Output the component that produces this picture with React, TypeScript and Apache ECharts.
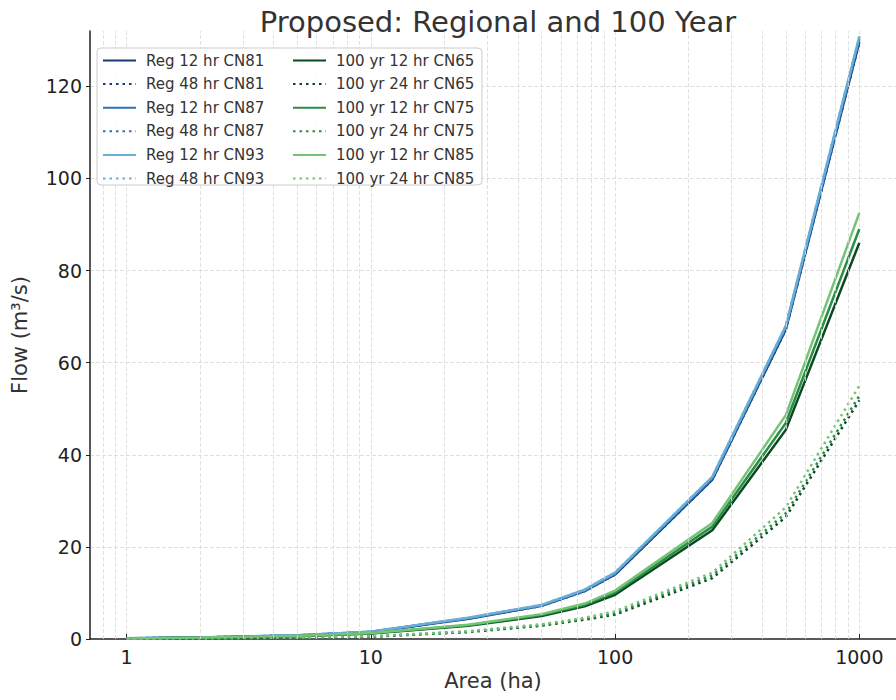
import React, { useEffect, useRef } from "react";
import * as echarts from "echarts";

const areas = [1, 2, 5, 10, 25, 50, 75, 100, 250, 500, 1000];

const reg12CN81 = [0.13, 0.32, 0.75, 1.5, 4.4, 7.2, 10.4, 14.0, 34.6, 67.2, 129.6];
const reg48CN81 = [0.13, 0.32, 0.75, 1.5, 4.4, 7.2, 10.4, 14.0, 34.6, 67.2, 129.6];
const reg12CN87 = [0.14, 0.33, 0.78, 1.55, 4.5, 7.3, 10.5, 14.2, 34.9, 67.6, 130.2];
const reg48CN87 = [0.14, 0.33, 0.78, 1.55, 4.5, 7.3, 10.5, 14.2, 34.9, 67.6, 130.2];
const reg12CN93 = [0.15, 0.35, 0.8, 1.6, 4.6, 7.4, 10.7, 14.4, 35.2, 68.0, 130.8];
const reg48CN93 = [0.15, 0.35, 0.8, 1.6, 4.6, 7.4, 10.7, 14.4, 35.2, 68.0, 130.8];

const yr12CN65 = [0.1, 0.26, 0.62, 1.2, 2.9, 5.0, 7.1, 9.6, 23.6, 45.4, 86.0];
const yr24CN65 = [0.04, 0.1, 0.26, 0.5, 1.5, 2.9, 4.2, 5.3, 13.2, 26.5, 51.8];
const yr12CN75 = [0.11, 0.28, 0.66, 1.25, 3.0, 5.2, 7.4, 10.1, 24.4, 46.9, 89.0];
const yr24CN75 = [0.05, 0.11, 0.28, 0.55, 1.6, 3.0, 4.4, 5.6, 13.8, 27.3, 52.8];
const yr12CN85 = [0.12, 0.3, 0.7, 1.3, 3.1, 5.4, 7.7, 10.5, 25.2, 48.6, 92.5];
const yr24CN85 = [0.05, 0.12, 0.3, 0.6, 1.7, 3.2, 4.6, 6.0, 14.4, 28.6, 55.0];

const minorXTicks = [0.8, 0.9, 2, 3, 4, 5, 6, 7, 8, 9, 20, 30, 40, 50, 60, 70, 80, 90, 200, 300, 400, 500, 600, 700, 800, 900];

const regNames = ["Reg 12 hr CN81", "Reg 48 hr CN81", "Reg 12 hr CN87", "Reg 48 hr CN87", "Reg 12 hr CN93", "Reg 48 hr CN93"];
const yrNames = ["100 yr 12 hr CN65", "100 yr 24 hr CN65", "100 yr 12 hr CN75", "100 yr 24 hr CN75", "100 yr 12 hr CN85", "100 yr 24 hr CN85"];

const FONT = "DejaVu Sans";

export default function App() {
  const ref = useRef<HTMLDivElement>(null);
  useEffect(() => {
    if (!ref.current) return;
    const chart = echarts.init(ref.current, null, { renderer: "svg" });
    const defs = [
      { name: regNames[0], data: reg12CN81, color: "#17397a", dotted: false },
      { name: regNames[1], data: reg48CN81, color: "#17397a", dotted: true },
      { name: regNames[2], data: reg12CN87, color: "#2b73b8", dotted: false },
      { name: regNames[3], data: reg48CN87, color: "#2b73b8", dotted: true },
      { name: regNames[4], data: reg12CN93, color: "#6aaed6", dotted: false },
      { name: regNames[5], data: reg48CN93, color: "#6aaed6", dotted: true },
      { name: yrNames[0], data: yr12CN65, color: "#0a4a1f", dotted: false },
      { name: yrNames[1], data: yr24CN65, color: "#0a4a1f", dotted: true },
      { name: yrNames[2], data: yr12CN75, color: "#2a8c48", dotted: false },
      { name: yrNames[3], data: yr24CN75, color: "#2a8c48", dotted: true },
      { name: yrNames[4], data: yr12CN85, color: "#74c476", dotted: false },
      { name: yrNames[5], data: yr24CN85, color: "#74c476", dotted: true },
    ];
    const gridStyle = { color: "#d8d8d8", width: 0.8, type: [4, 2] as any };
    const series: any[] = [
      {
        type: "line",
        name: "__grid",
        data: [[1, 0]],
        symbol: "none",
        lineStyle: { opacity: 0 },
        silent: true,
        z: 1,
        markLine: {
          silent: true,
          symbol: ["none", "none"],
          label: { show: false },
          lineStyle: gridStyle,
          data: minorXTicks.map((v) => ({ xAxis: v })),
        },
      },
      ...defs.map((d) => ({
        type: "line",
        name: d.name,
        data: areas.map((a, i) => [a, d.data[i]]),
        symbol: "none",
        showSymbol: false,
        color: d.color,
        z: 3,
        lineStyle: {
          color: d.color,
          width: 2.5,
          type: d.dotted ? [2.5, 4] : "solid",
          cap: "butt",
        },
      })),
    ];
    const legendCommon = {
      orient: "vertical",
      top: 48,
      itemWidth: 33,
      itemHeight: 14,
      itemGap: 8.6,
      z: 20,
      itemStyle: { opacity: 0 },
      textStyle: { fontFamily: FONT, fontSize: 15, color: "#333", padding: [0, 0, 0, 5] },
      selectedMode: false,
    };
    chart.setOption({
      animation: false,
      backgroundColor: "#fff",
      title: {
        text: "Proposed: Regional and 100 Year",
        left: 493,
        textAlign: "center",
        top: 2,
        textStyle: { fontFamily: FONT, fontSize: 29, fontWeight: "normal", color: "#333" },
      },
      grid: { left: 90, right: 0, top: 31, bottom: 61 },
      legend: [
        { ...legendCommon, left: 97, data: regNames },
        { ...legendCommon, left: 287, data: yrNames },
      ],
      graphic: [
        {
          type: "rect",
          z: 10,
          shape: { x: 97, y: 48, width: 385, height: 137, r: 4 },
          style: { fill: "rgba(255,255,255,0.85)", stroke: "#cccccc", lineWidth: 1 },
        },
      ],
      xAxis: {
        type: "log",
        logBase: 10,
        min: 0.708,
        max: 1413,
        name: "Area (ha)",
        nameLocation: "middle",
        nameGap: 31,
        nameTextStyle: { fontFamily: FONT, fontSize: 21, color: "#333" },
        axisLine: { show: true, onZero: false, lineStyle: { color: "#222", width: 1.5 } },
        axisTick: { show: true, inside: true, length: 5, lineStyle: { color: "#222" } },
        axisLabel: {
          fontFamily: FONT,
          fontSize: 19,
          color: "#222",
          margin: 8,
          showMinLabel: false,
          showMaxLabel: false,
          formatter: (v: number) => String(Math.round(v)),
        },
        splitLine: { show: true, showMinLine: false, showMaxLine: false, lineStyle: gridStyle },
      },
      yAxis: {
        type: "value",
        min: 0,
        max: 132,
        interval: 20,
        name: "Flow (m³/s)",
        nameLocation: "middle",
        nameGap: 60,
        nameTextStyle: { fontFamily: FONT, fontSize: 21, color: "#333" },
        axisLine: { show: true, lineStyle: { color: "#222", width: 1.5 } },
        axisTick: { show: true, length: 4, lineStyle: { color: "#222" } },
        axisLabel: {
          fontFamily: FONT,
          fontSize: 19,
          color: "#222",
          margin: 8,
          showMaxLabel: false,
        },
        splitLine: { show: true, showMinLine: false, showMaxLine: false, lineStyle: gridStyle },
      },
      series,
    });
    return () => chart.dispose();
  }, []);
  return <div ref={ref} style={{ width: 896, height: 700, position: "absolute", left: 0, top: 0 }} />;
}
